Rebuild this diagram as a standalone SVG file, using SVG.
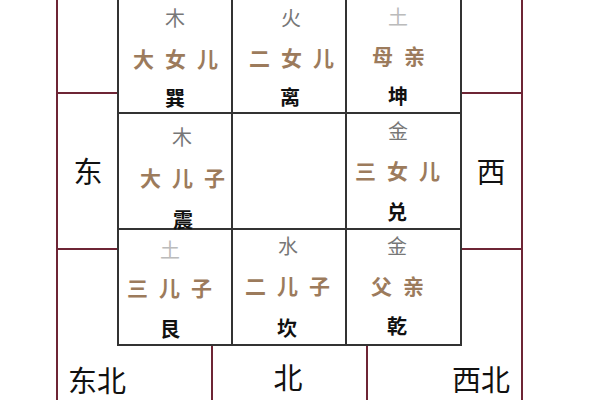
<svg xmlns="http://www.w3.org/2000/svg" width="600" height="400" viewBox="0 0 600 400">
<style>
.frame{stroke:#6e2535;stroke-width:2;fill:none}
.grid{stroke:#333;stroke-width:2;fill:none}
text{font-family:"Noto Sans CJK SC","Noto Sans CJK TC",sans-serif;text-anchor:middle;dominant-baseline:central}
.el{font-size:20px;fill:#777}
.el2{font-size:20px;fill:#bbb}
.rel{font-size:21px;fill:#9c7b5c;letter-spacing:11px;font-weight:bold}
.tri{font-size:20px;fill:#111;font-weight:bold}
.dir{font-size:29px;fill:#111}
</style>
<rect width="600" height="400" fill="#fff"/>
<g id="connectors">
<path class="frame" d="M57 0V400M522 0V400M57 93H118M57 249H118M461 93H522M461 249H522M212 345V400M367 345V400"/>
<path class="grid" d="M118 0V345H461V0M232 0V345M346 0V345M118 113H461M118 229H461"/>
</g>
<g id="xun"><text class="el" x="175" y="17">木</text><text class="rel" x="181" y="58">大女儿</text><text class="tri" x="175" y="97">巽</text></g>
<g id="li"><text class="el" x="291" y="17">火</text><text class="rel" x="297" y="57">二女儿</text><text class="tri" x="290" y="96">离</text></g>
<g id="kun"><text class="el2" x="398" y="16">土</text><text class="rel" x="404" y="55">母亲</text><text class="tri" x="398" y="95">坤</text></g>
<g id="zhen"><text class="el" x="182" y="136">木</text><text class="rel" x="188" y="177">大儿子</text><text class="tri" x="183" y="219">震</text></g>
<g id="dui"><text class="el" x="398" y="130">金</text><text class="rel" x="403" y="170">三女儿</text><text class="tri" x="397" y="211">兑</text></g>
<g id="gen"><text class="el2" x="170" y="249">土</text><text class="rel" x="175" y="287">三儿子</text><text class="tri" x="170" y="328">艮</text></g>
<g id="kan"><text class="el" x="288" y="245">水</text><text class="rel" x="293" y="285">二儿子</text><text class="tri" x="287" y="327">坎</text></g>
<g id="qian"><text class="el" x="397" y="245">金</text><text class="rel" x="403" y="285">父亲</text><text class="tri" x="397" y="325">乾</text></g>
<g id="east"><text class="dir" x="88" y="170">东</text></g>
<g id="west"><text class="dir" x="491" y="170">西</text></g>
<g id="northeast"><text class="dir" x="97" y="379">东北</text></g>
<g id="north"><text class="dir" x="288" y="376">北</text></g>
<g id="northwest"><text class="dir" x="481" y="378">西北</text></g>
</svg>
